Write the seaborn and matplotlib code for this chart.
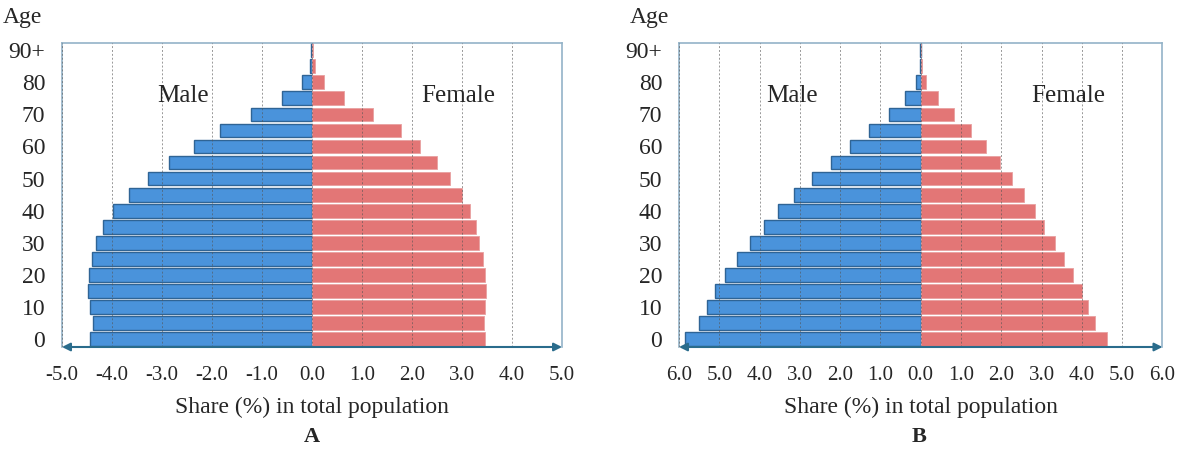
import pandas as pd
import matplotlib.pyplot as plt
import seaborn as sns

# age groups (5-year), bottom to top
ages = ['0', '5', '10', '15', '20', '25', '30', '35', '40', '45',
        '50', '55', '60', '65', '70', '75', '80', '85', '90+']
age_ticks = ['0', '10', '20', '30', '40', '50', '60', '70', '80', '90+']

# panel A: share (%) in total population
male_a = [4.44, 4.37, 4.44, 4.47, 4.45, 4.39, 4.31, 4.17, 3.98, 3.66,
          3.28, 2.86, 2.36, 1.84, 1.22, 0.60, 0.20, 0.05, 0.02]
female_a = [3.46, 3.44, 3.46, 3.48, 3.46, 3.41, 3.34, 3.27, 3.15, 2.99,
            2.75, 2.50, 2.16, 1.77, 1.22, 0.63, 0.23, 0.06, 0.02]

# panel B
male_b = [5.86, 5.51, 5.31, 5.11, 4.87, 4.56, 4.25, 3.90, 3.55, 3.14,
          2.69, 2.22, 1.75, 1.28, 0.78, 0.39, 0.13, 0.03, 0.01]
female_b = [4.62, 4.33, 4.16, 4.00, 3.79, 3.56, 3.33, 3.06, 2.83, 2.57,
            2.27, 1.96, 1.61, 1.24, 0.82, 0.42, 0.14, 0.03, 0.01]

labels_a = ['-5.0', '-4.0', '-3.0', '-2.0', '-1.0', '0.0',
            '1.0', '2.0', '3.0', '4.0', '5.0']
labels_b = ['6.0', '5.0', '4.0', '3.0', '2.0', '1.0', '0.0',
            '1.0', '2.0', '3.0', '4.0', '5.0', '6.0']

BLUE = '#4A93DB'
BLUE_EDGE = '#2F6495'
RED = '#E37676'
RED_EDGE = '#E8A0A0'
FRAME = '#93B3C8'
AXIS = '#2A6C8C'

sns.set_theme(style='white')
plt.rcParams['font.family'] = ['Liberation Serif', 'DejaVu Serif']

fig = plt.figure(figsize=(11.85, 4.53), dpi=100)
ax_a = fig.add_axes([0.0523, 0.234, 0.422, 0.671])
ax_b = fig.add_axes([0.573, 0.234, 0.408, 0.671])


def draw_pyramid(ax, male, female, lim, tick_labels, male_x, female_x):
    df = pd.DataFrame({'age': ages,
                       'male': [-v for v in male],
                       'female': female})
    order = ages[::-1]
    sns.barplot(data=df, x='male', y='age', order=order, orient='h',
                color=BLUE, saturation=1, edgecolor=BLUE_EDGE, linewidth=1,
                width=0.86, ax=ax)
    sns.barplot(data=df, x='female', y='age', order=order, orient='h',
                color=RED, saturation=1, edgecolor=RED_EDGE, linewidth=0.6,
                width=0.86, ax=ax)

    ax.set_xlim(-lim, lim)
    ax.set_ylim(18.5, -0.45)
    ax.set_xticks(range(-lim, lim + 1))
    ax.set_xticklabels(tick_labels, fontsize=15)
    ax.set_yticks([order.index(a) for a in age_ticks])
    ax.set_yticklabels(age_ticks, fontsize=17)
    ax.tick_params(axis='y', length=0, pad=12)
    ax.tick_params(axis='x', length=5, width=1, color=AXIS, direction='out', pad=9)
    ax.set_ylabel('')
    ax.set_xlabel('Share (%) in total population', fontsize=17, labelpad=8)

    ax.xaxis.grid(True, linestyle=(0, (2, 2)), color='#555555', lw=0.7, alpha=0.6)
    ax.set_axisbelow(False)
    for s in ['top', 'left', 'right']:
        ax.spines[s].set_color(FRAME)
        ax.spines[s].set_linewidth(1.2)
    ax.spines['bottom'].set_visible(False)
    ax.annotate('', xy=(0, 0), xytext=(1, 0), xycoords='axes fraction',
                arrowprops=dict(arrowstyle='<|-|>', color=AXIS, lw=1.5,
                                shrinkA=0, shrinkB=0, mutation_scale=12))

    ax.text(male_x, 2.85, 'Male', fontsize=18, ha='center', va='center')
    ax.text(female_x, 2.85, 'Female', fontsize=18, ha='center', va='center')


draw_pyramid(ax_a, male_a, female_a, 5, labels_a, -2.58, 2.92)
draw_pyramid(ax_b, male_b, female_b, 6, labels_b, -3.2, 3.65)

fig.text(22 / 1185, 1 - 18 / 453, 'Age', fontsize=17, ha='center', va='center')
fig.text(649 / 1185, 1 - 18 / 453, 'Age', fontsize=17, ha='center', va='center')
fig.text(312 / 1185, 1 - 437 / 453, 'A', fontsize=16, fontweight='bold',
         ha='center', va='center')
fig.text(919 / 1185, 1 - 437 / 453, 'B', fontsize=16, fontweight='bold',
         ha='center', va='center')

fig.savefig('out.png', dpi=100)
